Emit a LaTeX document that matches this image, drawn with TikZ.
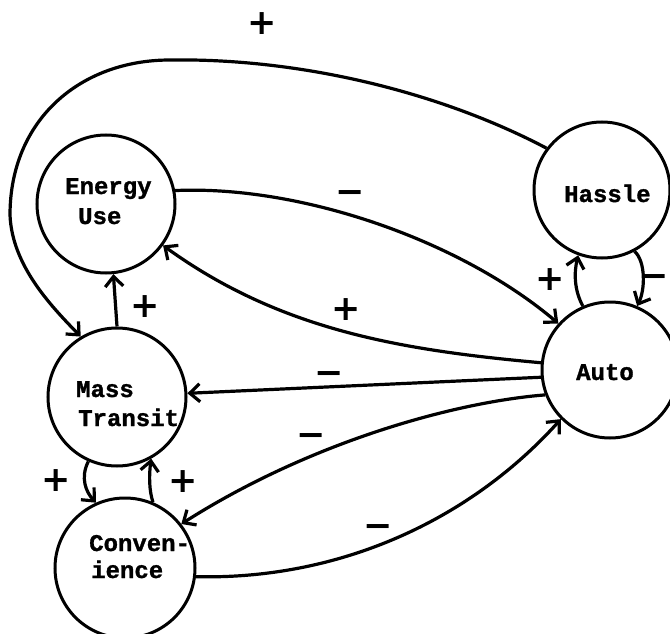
\documentclass[tikz,border=0pt]{standalone}
\usepackage{fontspec}
\setmonofont{Liberation Mono}[BoldFeatures={FakeBold=1.2}]
\newfontfamily\signfont{DejaVu Sans}
\usetikzlibrary{arrows.meta}
\begin{document}
\begin{tikzpicture}[x=1pt,y=-1pt,
  statenode/.style={circle,draw,line width=3pt,inner sep=0pt},
  ttext/.style={anchor=base west,inner sep=0pt,font=\ttfamily\bfseries\fontsize{24}{29}\selectfont},
  signlbl/.style={anchor=center,inner sep=0pt,font=\signfont\bfseries\fontsize{35}{35}\selectfont},
  conn/.style={line width=3.2pt,-{Straight Barb[length=10pt,width=18pt]}},
]
\useasboundingbox (0,0) rectangle (670,634);

% circles
\node[statenode,minimum size=138pt] (E) at (106,204) {};
\node[statenode,minimum size=136pt] (H) at (602,190) {};
\node[statenode,minimum size=138pt] (M) at (117,397) {};
\node[statenode,minimum size=140pt] (C) at (125,568) {};
\node[statenode,minimum size=136pt] (A) at (610,370) {};

% texts
\node[ttext] (Et1) at (65,194) {Energy};
\node[ttext] (Et2) at (78,224) {Use};
\node[ttext] (Ht) at (564,202) {Hassle};
\node[ttext] (Mt1) at (76,397) {Mass};
\node[ttext] (Mt2) at (78,426) {Transit};
\node[ttext] (Ct1) at (89,551) {Conven-};
\node[ttext] (Ct2) at (91,578) {ience};
\node[ttext] (At) at (576,380) {Auto};

% connectors
\draw[conn] (H.143) .. controls (440,92) and (300,58) .. (170,60)
  .. controls (80,60) and (10,120) .. (10,215)
  .. controls (12,265) and (50,305) .. (M.121);
\draw[conn] (E.11) .. controls (300,185) and (460,240) .. (A.138);
\draw[conn] (A.174) .. controls (400,350) and (280,330) .. (E.-36);
\draw[conn] (A.186) -- (M.3);
\draw[conn] (A.201) .. controls (455,402) and (310,442) .. (C.38);
\draw[conn] (C.-7) .. controls (340,580) and (470,520) .. (A.225);
\draw[conn] (M.90) -- (E.-84);
\draw[conn] (M.246) .. controls (80,478) and (86,492) .. (C.114);
\draw[conn] (C.67) .. controls (149,490) and (149,475) .. (M.-61);
\draw[conn] (A.113) .. controls (574,290) and (574,272) .. (H.250);
\draw[conn] (H.-62) .. controls (646,262) and (645,290) .. (A.67);

% signs
\node[signlbl] (s1) at (262,24) {+};
\node[signlbl] (s2) at (350,197) {−};
\node[signlbl] (s3) at (346,310) {+};
\node[signlbl] (s4) at (145,307) {+};
\node[signlbl] (s5) at (329,378) {−};
\node[signlbl] (s6) at (311,440) {−};
\node[signlbl] (s7) at (378,531) {−};
\node[signlbl] (s8) at (56,481) {+};
\node[signlbl] (s9) at (183,482) {+};
\node[signlbl] (s10) at (550,280) {+};
\node[signlbl] (s11) at (654,281) {−};
\end{tikzpicture}
\end{document}
